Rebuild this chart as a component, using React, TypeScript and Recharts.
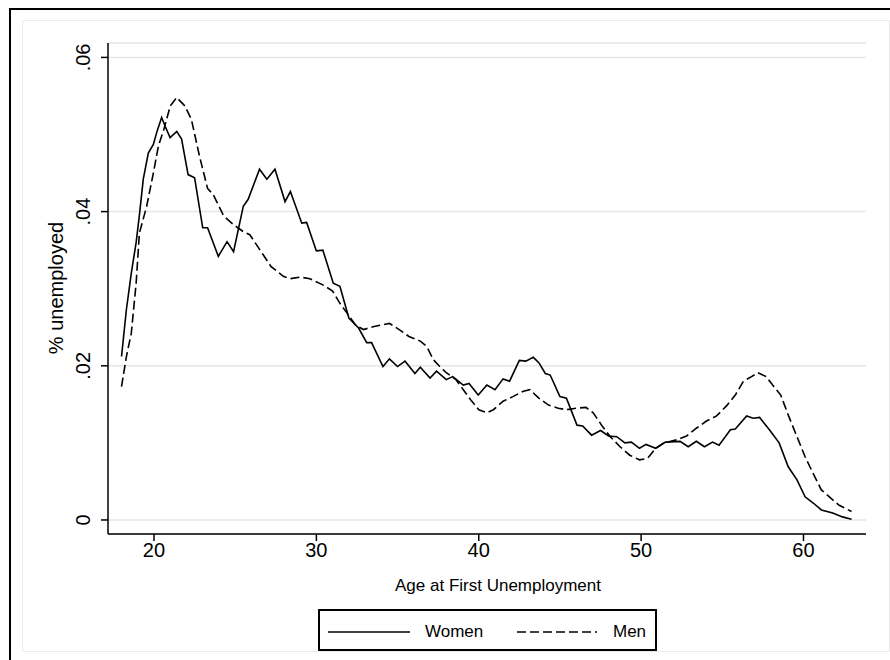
import { LineChart, Line, XAxis, YAxis, CartesianGrid, Legend } from 'recharts';

// age at first unemployment
const womenAge = [
  18.0, 18.3, 18.6, 18.9, 19.1, 19.34, 19.65, 19.96, 20.2, 20.47, 20.7, 20.99, 21.4, 21.7, 22.1, 22.5,
  23.0, 23.3, 23.96, 24.5, 24.9, 25.5, 25.8, 26.5, 26.95, 27.45, 28.07, 28.4, 29.1, 29.4, 30.0, 30.4,
  31.04, 31.45, 32.0, 32.6, 33.1, 33.4, 34.1, 34.5, 35.0, 35.46, 36.07, 36.4, 37.0, 37.4, 38.0, 38.4,
  39.05, 39.4, 39.97, 40.5, 41.0, 41.5, 41.9, 42.5, 42.9, 43.36, 43.7, 44.1, 44.4, 45.0, 45.4, 46.05,
  46.4, 46.95, 47.5, 48.0, 48.5, 49.0, 49.4, 49.9, 50.3, 50.9, 51.5, 52.4, 52.9, 53.4, 53.9, 54.4,
  54.8, 55.5, 55.8, 56.5, 56.9, 57.3, 57.9, 58.5, 59.06, 59.6, 60.1, 60.6, 61.1, 61.8, 62.4, 62.96,
];
const womenShare = [
  0.0212, 0.0273, 0.032, 0.036, 0.0395, 0.0442, 0.0476, 0.0487, 0.0505, 0.0522, 0.051, 0.0496, 0.0504, 0.0494, 0.0448, 0.0444,
  0.0379, 0.0379, 0.0342, 0.0361, 0.0348, 0.0407, 0.0416, 0.0455, 0.0442, 0.0455, 0.0413, 0.0426, 0.0385, 0.0386, 0.0349, 0.035,
  0.0307, 0.0303, 0.0262, 0.0249, 0.023, 0.023, 0.0199, 0.0209, 0.0199, 0.0206, 0.019, 0.0198, 0.0184, 0.0193, 0.0182, 0.0186,
  0.0175, 0.0177, 0.0162, 0.0175, 0.0169, 0.0183, 0.018, 0.0207, 0.0206, 0.0211, 0.0204, 0.019, 0.0188, 0.016, 0.0158, 0.0123,
  0.0122, 0.011, 0.0116, 0.0109, 0.0108, 0.01, 0.0101, 0.0093, 0.0098, 0.0093, 0.0101, 0.0102, 0.0095, 0.0102, 0.0095, 0.0101,
  0.0097, 0.0117, 0.0118, 0.0135, 0.0132, 0.0133, 0.0117, 0.01, 0.0069, 0.0052, 0.003, 0.0022, 0.0013, 0.0009, 0.0004, 0.0001,
];

const menAge = [
  18.0, 18.3, 18.6, 18.9, 19.1, 19.55, 19.96, 20.27, 20.6, 21.0, 21.4, 21.9, 22.3, 22.8, 23.3, 23.65,
  23.86, 24.3, 24.9, 25.5, 25.9, 26.6, 27.2, 27.96, 28.4, 29.0, 29.6, 30.4, 31.0, 31.45, 31.9, 32.4,
  32.9, 33.55, 34.5, 35.1, 35.7, 36.4, 36.8, 37.2, 37.6, 38.0, 38.6, 39.05, 39.5, 40.0, 40.5, 40.9,
  41.5, 42.1, 42.75, 43.15, 43.7, 44.3, 44.9, 45.4, 46.0, 46.6, 47.05, 47.6, 48.1, 48.7, 49.3, 49.9,
  50.4, 50.9, 51.4, 52.2, 52.8, 53.4, 54.0, 54.65, 55.3, 55.8, 56.3, 56.8, 57.2, 57.7, 58.1, 58.6,
  59.1, 59.6, 60.1, 60.6, 61.1, 61.7, 62.2, 62.96,
];
const menShare = [
  0.0173, 0.0212, 0.0242, 0.0307, 0.0372, 0.0407, 0.045, 0.0485, 0.0506, 0.0537, 0.0548, 0.0537, 0.052, 0.0472, 0.043, 0.0422,
  0.0413, 0.0394, 0.0383, 0.0374, 0.037, 0.0348, 0.0329, 0.0316, 0.0313, 0.0315, 0.0313, 0.0305, 0.0297, 0.0281, 0.0268, 0.0253,
  0.0247, 0.0251, 0.0255, 0.0247, 0.0238, 0.0232, 0.0225, 0.0208, 0.0199, 0.0191, 0.0182, 0.0169, 0.0156, 0.0143, 0.0139, 0.0143,
  0.0154, 0.016, 0.0167, 0.0169, 0.0158, 0.0149, 0.0145, 0.0143, 0.0145, 0.0146, 0.0139, 0.0122, 0.0108, 0.0095, 0.0084, 0.0078,
  0.008, 0.0093, 0.01, 0.0104, 0.0109, 0.0119, 0.0128, 0.0135, 0.0149, 0.0162, 0.018, 0.0186, 0.0191, 0.0186, 0.0175, 0.0162,
  0.0134, 0.0108, 0.0082, 0.006, 0.0039, 0.0028, 0.0019, 0.0011,
];

const xTicks = [20, 30, 40, 50, 60];
const yTicks = [0, 0.02, 0.04, 0.06];
const seriesNames = ['Women', 'Men'];

const womenData = womenAge.map((age, i) => ({ age, share: womenShare[i] }));
const menData = menAge.map((age, i) => ({ age, share: menShare[i] }));

const FONT = 'Arial, "Liberation Sans", Helvetica, sans-serif';
const DASH = '9 4';

const fmtY = (v: number) => (v === 0 ? '0' : String(v).replace(/^0/, ''));

const YTick = ({ x, y, payload }: any) => (
  <text
    x={x}
    y={y}
    transform={`rotate(-90, ${x}, ${y})`}
    textAnchor="middle"
    fontSize={20}
    fontFamily={FONT}
    fill="#000"
  >
    {fmtY(payload.value)}
  </text>
);

const XTick = ({ x, y, payload }: any) => (
  <text x={x} y={y + 14} textAnchor="middle" fontSize={20} fontFamily={FONT} fill="#000">
    {payload.value}
  </text>
);

const YTitle = () => (
  <text x={63} y={288} transform="rotate(-90, 63, 288)" textAnchor="middle" fontSize={20} fontFamily={FONT} fill="#000">
    % unemployed
  </text>
);

const XTitle = () => (
  <text x={498} y={591} textAnchor="middle" fontSize={17} fontFamily={FONT} fill="#000">
    Age at First Unemployment
  </text>
);

const LegendBox = () => (
  <svg width={339} height={42} style={{ display: 'block' }}>
    <rect x={1} y={1} width={337} height={40} fill="#fff" stroke="#000" strokeWidth={2} />
    <line x1={10} x2={92} y1={23} y2={23} stroke="#000" strokeWidth={1.6} />
    <text x={107} y={28} fontSize={17} fontFamily={FONT} fill="#000">{seriesNames[0]}</text>
    <line x1={199} x2={279} y1={23} y2={23} stroke="#000" strokeWidth={1.6} strokeDasharray={DASH} />
    <text x={295} y={28} fontSize={17} fontFamily={FONT} fill="#000">{seriesNames[1]}</text>
  </svg>
);

export default function App() {
  return (
    <div style={{ position: 'absolute', left: 0, top: 0, width: 890, height: 660, overflow: 'hidden', background: '#fff' }}>
      {/* outer graph frame and inner region outline */}
      <div style={{ position: 'absolute', left: 9, top: 8, width: 920, height: 700, border: '2px solid #000' }} />
      <div style={{ position: 'absolute', left: 22, top: 20, width: 866, height: 630, border: '1px solid #ebebeb' }} />
      <div style={{ position: 'absolute', left: 0, top: 0 }}>
        <LineChart width={890} height={660} margin={{ top: 43, right: 24, left: 0, bottom: 0 }}>
          <CartesianGrid horizontal vertical={false} stroke="#e6e6e6" strokeWidth={1.5} />
          <XAxis
            dataKey="age"
            type="number"
            domain={[17.167, 63.85]}
            ticks={xTicks}
            allowDataOverflow
            height={126}
            stroke="#000"
            strokeWidth={1.5}
            tickSize={7}
            tick={<XTick />}
            label={<XTitle />}
          />
          <YAxis
            dataKey="share"
            type="number"
            domain={[-0.00182, 0.06187]}
            ticks={yTicks}
            allowDataOverflow
            width={108}
            stroke="#000"
            strokeWidth={1.5}
            tickSize={7}
            tickMargin={11}
            tick={<YTick />}
            label={<YTitle />}
          />
          <Legend
            layout="horizontal"
            verticalAlign="middle"
            align="center"
            content={() => <LegendBox />}
            wrapperStyle={{ position: 'absolute', left: 318, top: 609, width: 339, height: 42 }}
          />
          <Line
            data={womenData}
            dataKey="share"
            name={seriesNames[0]}
            type="linear"
            stroke="#000"
            strokeWidth={1.6}
            dot={false}
            isAnimationActive={false}
          />
          <Line
            data={menData}
            dataKey="share"
            name={seriesNames[1]}
            type="linear"
            stroke="#000"
            strokeWidth={1.6}
            strokeDasharray={DASH}
            dot={false}
            isAnimationActive={false}
          />
        </LineChart>
      </div>
    </div>
  );
}
